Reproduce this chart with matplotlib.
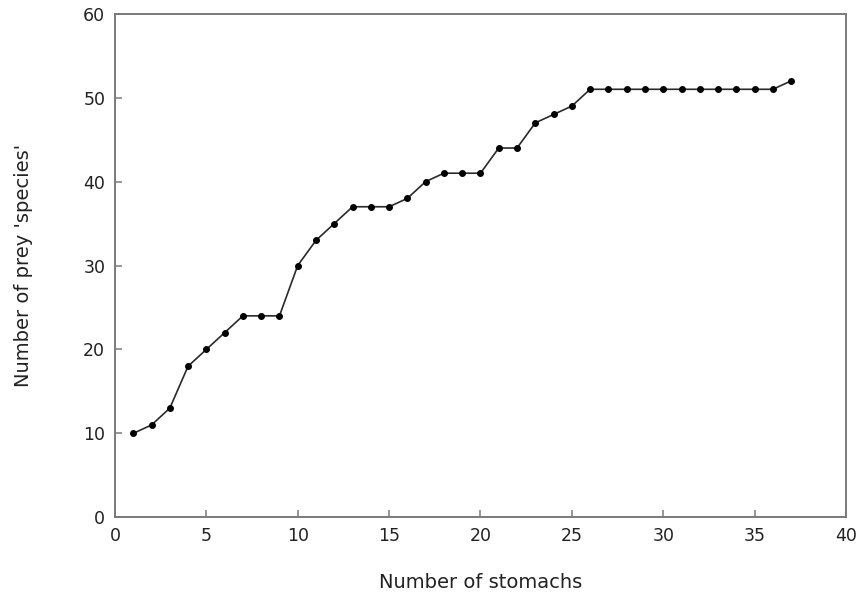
import numpy as np
import matplotlib
matplotlib.use("Agg")
import matplotlib.pyplot as plt

plt.rcParams["font.family"] = ["DejaVu Sans"]

# cumulative prey species vs number of stomachs examined
stomachs = np.arange(1, 38)
species = [10, 11, 13, 18, 20, 22, 24, 24, 24, 30,
           33, 35, 37, 37, 37, 38, 40, 41, 41, 41,
           44, 44, 47, 48, 49, 51, 51, 51, 51, 51,
           51, 51, 51, 51, 51, 51, 52]

x_ticks = [0, 5, 10, 15, 20, 25, 30, 35, 40]
y_ticks = [0, 10, 20, 30, 40, 50, 60]

fig = plt.figure(figsize=(8.58, 5.98), dpi=100)
ax = fig.add_axes([0.134, 0.135, 0.852, 0.842])

ax.plot(stomachs, species, color="#2a2a2a", linewidth=1.2,
        marker="o", markersize=4.0, markerfacecolor="black",
        markeredgecolor="black")

ax.set_xlim(0, 40)
ax.set_ylim(0, 60)
ax.set_xticks(x_ticks)
ax.set_yticks(y_ticks)
ax.tick_params(direction="in", length=5, width=1.1, color="#7a7a7a",
               labelsize=12.5, pad=7, labelcolor="#222222")
for sp in ax.spines.values():
    sp.set_color("#7a7a7a")
    sp.set_linewidth(1.4)

ax.set_xlabel("Number of stomachs", fontsize=14, labelpad=20, color="#222222")
ax.set_ylabel("Number of prey 'species'", fontsize=14, labelpad=36, color="#222222")

fig.savefig("out.png", dpi=100)
